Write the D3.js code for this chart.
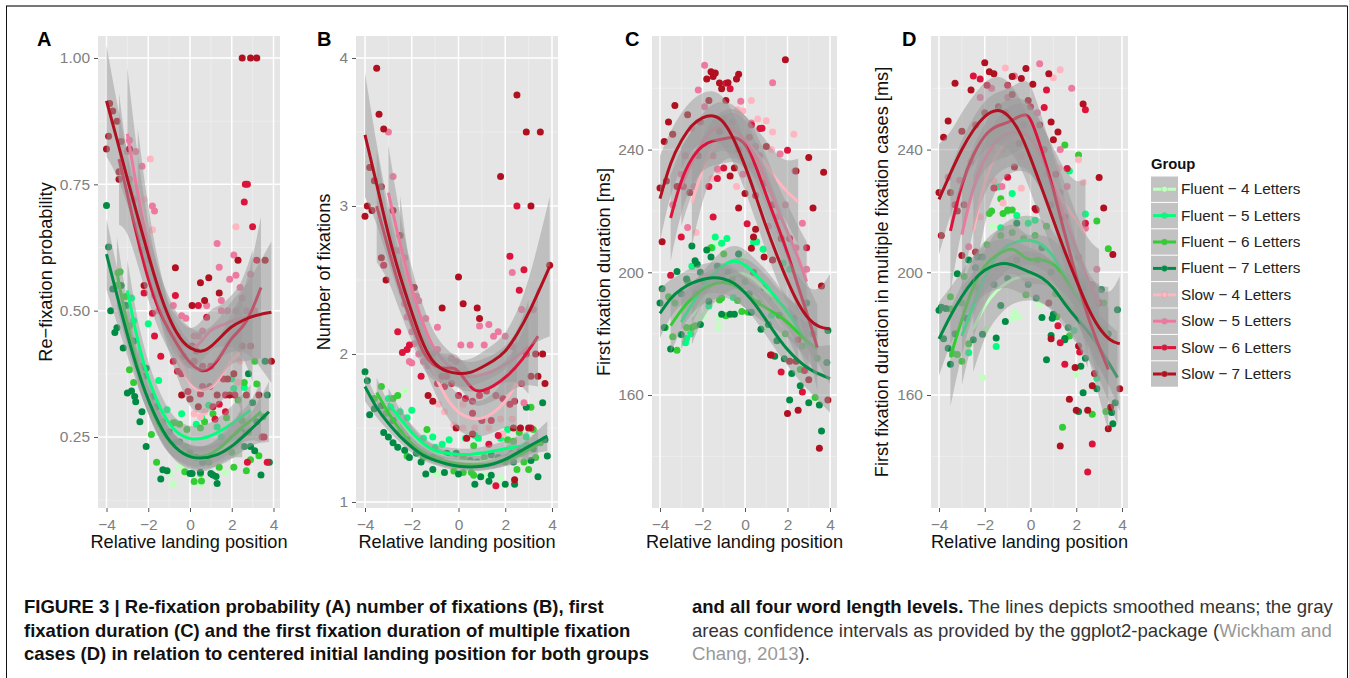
<!DOCTYPE html>
<html>
<head>
<meta charset="utf-8">
<script src="https://cdn.jsdelivr.net/npm/d3@7"></script>
<style>
    html, body { margin: 0; padding: 0; background: #fff; }
    svg { display: block; }
    text { font-family: "Liberation Sans", Arial, sans-serif; }
    .tick-lab text { fill: #7f7f7f; font-size: 15.5px; }
    .axis-title { fill: #111; font-size: 18.2px; }
    .letter { font-weight: bold; font-size: 20px; fill: #000; }
    .cap-b { font-family: "Liberation Sans Narrow", "Liberation Sans", sans-serif; font-weight: bold; font-size: 18.5px; fill: #111; }
    .cap { font-family: "Liberation Sans Narrow", "Liberation Sans", sans-serif; font-size: 18.6px; fill: #333; }
</style>
</head>
<body>
<svg id="fig" width="1349" height="678"></svg>
<script>
// ===================================================================
// DATA
// ===================================================================
const groups = ['Fluent − 4 Letters', 'Fluent − 5 Letters', 'Fluent − 6 Letters', 'Fluent − 7 Letters',
    'Slow − 4 Letters', 'Slow − 5 Letters', 'Slow − 6 Letters', 'Slow − 7 Letters'];
const groupColors = ['#c1ffc1', '#00ff7f', '#32cd32', '#008b45', '#ffb6c1', '#ee799f', '#dc143c', '#b0101f'];

const xTicks = [-4, -2, 0, 2, 4];
const xMinor = [-3, -1, 1, 3];
const yTicksA = [0.25, 0.5, 0.75, 1];
const yMinorA = [0.125, 0.375, 0.625, 0.875];
const yTicksB = [1, 2, 3, 4];
const yMinorB = [1.5, 2.5, 3.5];
const yTicksC = [160, 200, 240];
const yMinorC = [140, 180, 220, 260];

const yTitles = ['Re−fixation probability', 'Number of fixations', 'First fixation duration [ms]', 'First fixation duration in multiple fixation cases [ms]'];

// Points: one list per group, same order as `groups`
const pointsA = [
    [[-.8,.157],[.5,.157],[1.7,.18],[-.95,.177],[1.4,.192],[.3,.2],[-.5,.19],[-2.5,.4],[2.3,.22]],
    [[-2.8,.525],[-2.7,.48],[-2,.474],[-1.5,.362],[-1.1,.304],[-.4,.296],[-.7,.278],[.3,.275],[2,.365],[2.6,.348],[2.1,.346],[.9,.313],[.55,.289],[1.3,.27],[-3,.51],[1.5,.25]],
    [[-3.35,.577],[-3.45,.575],[-3.5,.55],[-3.1,.528],[-2.9,.383],[-2.7,.358],[-1.85,.255],[-1.6,.2],[-.25,.181],[.2,.162],[.55,.163],[.5,.178],[2.1,.19],[2.7,.183],[3.3,.213],[2.9,.205],[3.1,.4],[3.2,.355],[2.6,.358],[2.3,.323],[1.1,.296],[1.75,.288],[.7,.28],[.5,.268],[-.15,.265],[-.5,.275],[-.8,.278],[2.5,.282],[1.4,.19],[-2.9,.47],[-2.4,.39],[-1.3,.28],[-.2,.23],[.9,.2],[2,.22],[2.8,.26],[3.5,.29]],
    [[-4,.708],[-3.9,.626],[-3.8,.5],[-3.7,.543],[-3.6,.457],[-3.5,.466],[-3.2,.426],[-3,.337],[-2.8,.341],[-2.65,.33],[-2.6,.32],[-2.3,.3],[-2.4,.28],[-2.1,.231],[-2.1,.386],[-1.3,.185],[-1.1,.183],[-1.4,.167],[0,.178],[.1,.178],[.5,.18],[1,.178],[1.1,.175],[1.25,.172],[1.3,.158],[2.8,.375],[2.6,.231],[2.9,.231],[3.1,.223],[3.4,.175],[3.8,.2],[3,.318],[3.7,.333],[3.6,.4],[-3.3,.55],[-3.1,.51],[-2.7,.44],[-2.2,.37],[-1.8,.33],[-1.6,.31],[-1,.26],[-.7,.24],[-.5,.24],[0,.22],[.3,.21],[.6,.2],[1.3,.22],[1.6,.23],[2.3,.25],[2.5,.26],[3.2,.28]],
    [[-1.9,.8],[-1.8,.66],[2.2,.666],[2.4,.4],[.2,.296],[.5,.29],[.7,.3],[2.3,.358],[-2.2,.72]],
    [[1.3,.633],[2.1,.61],[2.2,.57],[1.9,.562],[1.4,.586],[2.9,.572],[2.4,.546],[1.5,.52],[.8,.51],[-1.8,.707],[-1.7,.697],[-2.3,.786],[-2.6,.815],[-2.9,.837],[-3,.815],[-2.9,.76],[-2.7,.72],[-2.5,.67],[-2.4,.645],[-2.2,.62],[-2,.6],[-1.7,.53],[-1.5,.5],[-1.2,.5],[-.8,.51],[-.4,.49],[-.2,.485],[.2,.45],[.4,.45],[.6,.46],[1.5,.5],[2.2,.5],[2.7,.5],[3.1,.5],[2.5,.525],[1.8,.5]],
    [[2.65,.75],[2.75,.75],[2.6,.715],[3,.666],[3.2,.6],[-.7,.53],[.4,.51],[.8,.487],[-2.2,.535],[-1.8,.495],[-1.7,.45],[-1.4,.41],[-.8,.4],[1.7,.333],[2.15,.333],[1.7,.3],[1.2,.285],[1.4,.315],[3.45,.25],[3.55,.25],[2.75,.2],[3.7,.2],[-.6,.45],[.1,.43],[.3,.42],[-.3,.41],[.2,.4],[.6,.39],[1,.39],[-.6,.38],[-.4,.375],[.6,.35],[.95,.35],[-.1,.34],[.5,.335],[1.1,.31],[1.6,.365],[2.5,.43],[2.9,.43]],
    [[-4,.82],[-3.9,.845],[-3.85,.91],[-3.7,.895],[-3.5,.875],[-3.3,.835],[-2.9,.82],[-3.4,.775],[-3.4,.76],[2.5,1],[2.9,1],[3.2,1],[3.6,.6],[2.3,.6],[-.7,.585],[.5,.555],[.9,.565],[1.4,.535],[.7,.52],[.1,.51],[-2.2,.55],[2.1,.375],[1.8,.365],[1.3,.333],[-.4,.333],[0,.325],[.4,.31],[3.9,.4],[1.9,.333],[2.7,.333],[3.3,.333]]
];
const pointsB = [
    [[-2.3,1.75],[-.9,1.19],[1.8,1.16],[.2,1.27],[1.1,1.18]],
    [[-2.5,1.61],[-2,1.62],[-2.2,1.57],[-3,1.7],[-2.9,1.64],[-1.5,1.43],[-1.1,1.44],[-1,1.37],[-.4,1.42],[-.7,1.39],[.3,1.43],[.85,1.43],[.7,1.45],[2.1,1.49],[2.9,1.44],[1.8,1.43]],
    [[-3.3,1.78],[-2.6,1.72],[-2.8,1.7],[-2.2,1.31],[-1.35,1.49],[3.1,1.64],[3.2,1.49],[2.6,1.47],[2.35,1.41],[2.1,1.42],[.65,1.18],[.55,1.2],[2.5,1.22],[3,1.22],[3.3,1.3],[2.8,1.27],[-.2,1.21],[.2,1.2],[.65,1.38],[-3.6,1.7],[-3.1,1.6],[-2.5,1.47],[-1.5,1.3],[-.8,1.3],[.2,1.3],[1.1,1.3],[2,1.27],[2.9,1.38],[3.5,1.4]],
    [[-4,1.88],[-3.9,1.82],[-3.8,1.59],[-3.6,1.63],[-3.2,1.47],[-3,1.44],[-2.8,1.4],[-2.6,1.37],[-2.3,1.35],[-2.1,1.3],[-1.6,1.27],[-1.4,1.19],[-1.1,1.22],[-.6,1.2],[0,1.19],[.7,1.12],[.95,1.17],[1.3,1.14],[1.4,1.18],[2,1.12],[2.4,1.12],[3.4,1.17],[3.8,1.31],[3.6,1.67],[2.9,1.64],[3.1,1.28],[2.35,1.27],[-3.3,1.65],[-2.8,1.55],[-2.2,1.42],[-1.8,1.33],[-1.1,1.3],[-.5,1.33],[-.1,1.33],[.5,1.28],[.8,1.27],[1.4,1.32],[1.7,1.3],[2.3,1.33],[2.6,1.34],[3.2,1.36],[3.7,1.42]],
    [[-.2,1.52],[.2,1.66],[-.85,1.66],[-.6,1.61],[1.3,1.5],[.2,1.5],[2.3,1.56],[1.8,1.56],[.7,1.5],[1.9,1.46]],
    [[-3,3.5],[-2.8,3.2],[-2.3,2.65],[-1.8,2.39],[-1.7,2.36],[-1.4,2.24],[-.9,2.18],[-2.1,1.95],[-2,1.94],[.9,2.19],[1.3,2.2],[2.3,2.55],[2.8,1.67],[-2.9,2.72],[-2.7,2.7],[-2.5,2.7],[-2.4,2.42],[-2.3,2.34],[-2.2,2.25],[-2,2.15],[-1.9,2.07],[-1.7,2],[-1.5,1.95],[-1.3,1.92],[-1.1,2],[-.9,2.03],[-.3,1.97],[-.1,1.95],[.1,2.06],[.5,2.06],[1.1,2.06],[1.5,2.12],[1.7,2.15],[2,2.12],[2.3,2.05],[2.7,2.3],[3.2,2.3]],
    [[2.5,3],[2.2,2.66],[2.8,2.57],[2.6,2.43],[-2.6,2.15],[-2.4,2.01],[-2.2,2.03],[-2.1,2.06],[-1.6,1.85],[1.3,1.39],[1.7,1.45],[1.6,1.11],[3.1,1.5],[-3.2,2.6],[-.7,1.85],[-.5,1.85],[-.9,1.8],[-.6,1.78],[-.3,1.8],[0,1.72],[.3,1.7],[.6,1.68],[.9,1.72],[1.2,1.75],[1.6,1.72],[1.9,1.7],[2.2,1.66],[2.4,1.68],[2.7,1.8],[.6,1.6],[1,1.55],[1.4,1.55]],
    [[-3.5,3.93],[-3.4,3.62],[-3.2,3.52],[-4,2.93],[-3.9,3],[-3.7,2.97],[-3.8,3.26],[-3.6,3.17],[-3.3,3.13],[-2.5,2.8],[-2.8,2.97],[-3.1,2.5],[-3.3,2.65],[-1.9,2.45],[-.7,2.31],[0,2.52],[.2,2.34],[.8,2.31],[.9,2.24],[1.8,3.2],[2.5,3.75],[2.9,3.5],[3.5,3.5],[3.1,3],[3.9,2.6],[3.6,2],[3.7,1.8],[-1.1,1.68],[-1.3,1.72],[-.1,1.5],[.6,1.46],[.35,1.43],[2.35,1.5],[2.65,1.5],[3,1.5],[2.4,1.15],[3.3,2],[3.4,1.85],[2.9,2],[3.1,1.85]]
];
const pointsC = [
    [[-1.25,185],[-1.25,182],[-1.9,186],[-2.1,185],[.95,182],[1.3,186],[-.1,205],[-1.4,209]],
    [[-1.4,211.5],[-1.1,209.5],[-.85,211],[-1.55,208],[-2.5,202],[-2.75,178.4],[-2.8,177],[-2.55,180],[-1.7,189],[-.55,191.8],[.55,210],[.4,209.8],[.85,207.5],[-.3,206],[1.8,203],[2.1,201],[1.25,186]],
    [[-2.5,182],[-2.75,182],[-2.35,182.6],[-3.2,174.6],[-3.4,179],[-3.75,182],[-1.2,191],[-1.1,191.6],[-.9,185.8],[-.15,187.2],[-.35,190.8],[.15,187],[2.6,168.3],[3.3,159.2],[-1.6,208],[-3.6,192],[-3.3,190],[-2.7,197],[-2.3,193],[-1.9,197],[-1,206],[-.6,198],[0,197],[.6,190],[1.3,192],[1.9,180],[2.7,176],[3.4,172]],
    [[-2.5,208.6],[-2.35,203.8],[-2.25,202.6],[-1.8,207.3],[-1.6,205],[-3.2,200.3],[-3.9,194.6],[-4,190],[-2.75,197.8],[-3.8,182],[-3.5,175],[-3,179.7],[-2.1,183],[-1.7,190.6],[-1.1,186.3],[-.7,186.3],[-.5,186.3],[.3,187],[.75,181.4],[1.5,177.7],[1.4,172.6],[1.85,171.8],[2.2,167],[2.6,163],[2.1,158.4],[3,157.5],[3.5,156.7],[3.6,148.3],[3.9,181],[3.85,170.6],[-3,193],[-2.1,200],[-1.3,202],[-.8,200],[-.3,206],[.2,193],[.4,200],[.9,195],[1.1,183],[1.6,186],[2.3,185],[2.9,190],[3.2,180]],
    [[.3,256],[2.3,245],[1.3,245.7],[.6,250],[1,249.4],[-2.3,213],[-.4,228],[-1.55,230.6],[1.25,240],[-.35,253],[-.1,252.6],[-1.25,233]],
    [[-1.9,267.5],[-2.2,259.4],[1.3,261.8],[-.2,255.8],[-2.7,214.6],[-1.3,233.7],[1.65,238.6],[2.35,233],[2.7,216],[2.9,201],[.5,241],[.3,248.7],[-3.4,222],[-3,232],[-2.8,238],[-2.4,228],[-2.5,247],[-1.9,254],[-1.5,238],[-1,250],[-.6,249],[-.1,232],[.3,235],[.7,238],[1.1,215],[1.5,218],[1.9,222],[2.4,208]],
    [[-1.5,218],[-1.3,230.6],[-1,234],[-1.7,228],[-3.5,199],[-3,211.5],[-.9,261.6],[-.7,259.8],[.7,246.9],[.8,247],[.3,248],[2,239.8],[.1,215.8],[1.7,167.5],[1.25,173],[2.8,168],[2.7,161],[2.5,178],[-2.9,228],[-2.1,249],[-1.2,246],[.2,244],[.5,225],[1.3,222],[2.1,211],[2.9,208]],
    [[1.9,269.3],[-1.8,263],[-1.6,265.4],[-1.5,263.8],[-1.4,265],[-.3,264.6],[-.4,263],[-1.2,261.7],[-.8,261.8],[-1.1,259.8],[-3.3,254.4],[-3.6,249],[-3.8,242.6],[-3.4,245],[-2.7,251.4],[-4,227.5],[-3.7,229.8],[-3.9,210],[1,241],[3,237.4],[3.7,232.6],[2.4,233],[3.2,221],[-.3,221],[0,225.7],[.4,211.5],[.5,214],[.3,207.8],[-.5,234],[-.7,231.4],[3.6,195.5],[2,154],[2.5,155],[3,165],[3.5,142.6],[3.9,158.4],[2.1,171],[2.4,171],[1.2,173],[-3.2,228],[-2.6,226],[-2.2,238],[-1.7,256],[-.9,256],[-.3,240],[.9,229],[1.7,211],[.9,205],[1.3,204]]
];
const pointsD = [
    [[-2.1,165.7],[2,166.6],[-.7,187],[-.5,185.5],[-.75,185],[-1.9,181.5],[-1.65,215],[.4,189.3],[-.2,217]],
    [[-.8,225.7],[-1,220],[-1.4,227.8],[.2,217],[2.4,219],[1.7,233],[-2.7,173.8],[-1.5,175.8],[1.9,181],[2.9,165.5],[-.1,216],[-1.3,214.5],[-.6,218.5]],
    [[1.5,241.5],[2.1,238.2],[-1.3,224],[-1.7,220],[-1.8,219.2],[-1.2,219.2],[-.8,220.3],[-1,220.3],[3.4,207.7],[2.9,216.7],[-2.9,198.6],[-3.5,192],[-3.4,173.5],[-3.2,173.2],[-3,171],[-2.7,176.7],[-.2,192.7],[2.7,153.7],[1.4,149.5],[3.3,154.6],[1.7,179.2],[1.15,185.5],[-3.5,188],[-3,190],[-2.3,195],[-1.9,209],[-1.3,212],[-.8,213],[-.3,211],[.2,212],[.7,215],[1.1,193],[2.1,205],[2.7,182],[3.2,190]],
    [[-.6,216],[-4,187.6],[-3.9,188.6],[-3.7,188.2],[-3.8,178.3],[-3.6,175.2],[-3.5,170],[-3.2,199.5],[-2.7,204],[-2.4,201.5],[-2.3,205],[-2.1,179.8],[-1.1,184],[-1.3,189.2],[-1.5,178.6],[.25,191.6],[.5,185.3],[1,186.3],[.95,185],[.9,179.4],[.7,171.5],[1.65,182],[1.5,178.4],[2.2,169.4],[2.3,160.7],[2.1,154.6],[2.4,172],[2.9,162],[3.1,194.4],[3.8,187.8],[3.55,154.3],[3.6,150.6],[3.7,157.5],[-3.3,180],[-2.8,185],[-2.5,178],[-2.1,205],[-1.6,196],[-1,198],[-.6,204],[-.1,196],[.3,204],[.5,208],[.9,200],[1.5,178],[2.3,195],[3,190],[3.4,180]],
    [[-1.1,266.6],[1.3,266],[1,263.4],[2.1,236.7],[1.25,234],[-.4,227.4],[-1.2,222.6],[-1.6,229.8],[2.3,229.3],[-2.2,218],[-1.7,240],[-1.2,240],[-.4,238]],
    [[.4,268],[-.7,264],[1.8,260],[1.3,240],[-1.25,228],[-2.7,208.3],[2.9,201],[2.4,214.4],[1.6,228],[-3.6,231],[-3.1,230],[-2.6,236],[-2.2,257],[-1.7,260],[-1,257],[-.3,248],[.3,252],[.7,232],[1.3,226],[1.7,205],[2.7,196]],
    [[-2.5,264],[-2.2,263],[-1,261],[.7,259.4],[.6,253.7],[2.4,253],[1.6,233.8],[-1.6,227.5],[-1,231],[.25,220.3],[2.7,144],[2.5,134.9],[1.5,170],[1.3,177],[1.2,182.6],[2.15,174],[-3.3,222],[-2.9,222],[-2.4,248],[-1.9,261],[-1.1,252],[-.5,242],[0,254],[.6,240],[1.1,232],[1.5,218],[2.4,216],[3,190]],
    [[-2,268.3],[-1.8,265.4],[-1.6,264.7],[-.2,266.4],[-3.3,261.6],[-2.6,259.4],[-3.6,249.3],[-3.8,244],[-4,226],[-3.9,212],[-.8,263.8],[-.4,263.2],[.1,261.3],[.8,264.7],[1.2,245.7],[1,243.2],[.9,249],[-.7,234.3],[3,230.9],[3.2,221],[3.6,205.8],[2.3,254.9],[-3,205.5],[-2.4,206.6],[.2,220.8],[1.3,143.4],[1.7,158.6],[2,155],[2.5,155],[1.95,169],[3.9,162],[3.5,156],[2.7,163],[2.8,167],[3.4,149],[.9,178.3],[.8,190],[2.1,176],[-3.5,226],[-3.2,220],[-3,246],[-2,252],[-1.4,254],[-.8,258],[-.1,256],[.4,248],[.9,222]]
];

// Smoothed means: one list per group, each knot is [x, mean, half width of the band]
const smoothA = [
    [[-2.5,.4,.05],[-2,.33,.035],[-1.5,.28,.03],[-1,.24,.025],[-.5,.22,.025],[0,.21,.025],[.5,.205,.025],[1,.21,.025],[1.5,.225,.025],[2,.24,.03],[2.5,.26,.05]],
    [[-3,.54,.06],[-2.4,.414,.035],[-1.6,.317,.03],[-.8,.26,.025],[0,.244,.025],[.8,.247,.025],[1.76,.268,.03],[2.9,.303,.05]],
    [[-3.5,.575,.07],[-3,.47,.04],[-2.5,.385,.03],[-2,.32,.025],[-1.5,.27,.025],[-1,.24,.025],[-.5,.222,.02],[0,.212,.02],[.5,.21,.02],[1,.215,.02],[1.5,.23,.025],[2,.25,.03],[2.5,.27,.03],[3,.285,.04],[3.4,.3,.06]],
    [[-4,.612,.07],[-2.7,.4,.03],[-1.9,.31,.025],[-1.1,.244,.025],[-.3,.213,.022],[.48,.206,.022],[1.3,.213,.022],[2.1,.233,.025],[3,.268,.03],[3.78,.3,.06]],
    [[-2.5,.74,.12],[-2,.64,.06],[-1.5,.54,.05],[-1,.46,.045],[-.5,.4,.045],[0,.35,.045],[.5,.34,.045],[1,.345,.045],[1.5,.37,.05],[2,.405,.06],[2.5,.42,.12]],
    [[-3,.85,.13],[-2.5,.73,.07],[-2,.62,.05],[-1.5,.53,.04],[-1,.47,.04],[-.5,.44,.04],[0,.42,.04],[.5,.435,.04],[1,.465,.04],[1.5,.47,.04],[2,.48,.05],[2.5,.485,.07],[3,.49,.13]],
    [[-3.4,.8,.13],[-3,.73,.07],[-2.5,.64,.05],[-2,.56,.04],[-1.5,.5,.04],[-1,.46,.04],[-.5,.425,.04],[0,.395,.04],[.5,.38,.04],[.9,.38,.04],[1.5,.41,.04],[2,.45,.05],[2.7,.47,.07],[3.4,.546,.14]],
    [[-4,.915,.11],[-3.5,.84,.07],[-3,.76,.05],[-2.5,.685,.04],[-2,.61,.04],[-1.5,.54,.04],[-1,.483,.04],[-.5,.445,.04],[0,.424,.04],[.6,.417,.04],[1,.428,.04],[1.5,.449,.04],[2,.47,.05],[2.5,.48,.06],[3,.49,.08],[3.9,.497,.14]]
];
const smoothB = [
    [[-2.5,1.55,.1],[-2,1.44,.06],[-1.5,1.37,.05],[-1,1.33,.045],[-.5,1.3,.04],[0,1.28,.04],[.5,1.27,.04],[1,1.27,.04],[1.5,1.28,.045],[2,1.31,.05],[2.5,1.35,.1]],
    [[-3,1.67,.1],[-2.5,1.56,.06],[-2,1.47,.05],[-1.5,1.39,.045],[-1,1.34,.04],[-.5,1.33,.04],[0,1.32,.04],[.5,1.32,.04],[1,1.33,.04],[1.5,1.345,.045],[2,1.36,.05],[2.5,1.375,.06],[3,1.385,.1]],
    [[-3.5,1.74,.1],[-3,1.6,.06],[-2.5,1.48,.05],[-2,1.39,.04],[-1.5,1.33,.04],[-1,1.29,.035],[-.5,1.27,.035],[0,1.255,.035],[.5,1.25,.035],[1,1.25,.035],[1.5,1.26,.035],[2,1.28,.04],[2.5,1.31,.05],[3,1.35,.06],[3.4,1.39,.1]],
    [[-4,1.78,.1],[-3.5,1.63,.06],[-3,1.53,.05],[-2.5,1.44,.04],[-2,1.37,.04],[-1.5,1.31,.035],[-1,1.28,.03],[-.5,1.255,.03],[0,1.24,.03],[.5,1.235,.03],[1,1.24,.03],[1.5,1.255,.035],[2,1.285,.04],[2.5,1.33,.04],[3,1.375,.05],[3.8,1.445,.1]],
    [[-2.5,2.75,.32],[-2,2.3,.17],[-1.5,2.05,.13],[-1,1.85,.12],[-.5,1.69,.12],[0,1.6,.12],[.5,1.56,.12],[1,1.56,.12],[1.5,1.6,.13],[2,1.67,.16],[2.5,1.81,.32]],
    [[-3,3.09,.32],[-2.5,2.74,.18],[-2,2.43,.14],[-1.5,2.19,.12],[-1,2.01,.11],[-.5,1.93,.1],[0,1.86,.1],[.5,1.84,.1],[1,1.86,.1],[1.5,1.885,.11],[2,1.93,.12],[2.5,1.98,.16],[3,2.05,.32]],
    [[-3.5,3,.38],[-3,2.71,.2],[-2.5,2.43,.15],[-2,2.21,.12],[-1.5,1.99,.11],[-1,1.91,.1],[-.5,1.9,.1],[-.3,1.91,.1],[0,1.89,.1],[.2,1.84,.1],[.6,1.76,.1],[.85,1.74,.1],[1.5,1.78,.1],[2.1,1.85,.12],[2.7,1.95,.15],[3.4,2.12,.34]],
    [[-4,3.48,.42],[-3.5,3.15,.26],[-3,2.8,.18],[-2.5,2.52,.14],[-2,2.28,.12],[-1.5,2.05,.1],[-1,1.92,.1],[-.5,1.88,.09],[0,1.865,.09],[.5,1.87,.09],[1,1.91,.1],[1.5,1.955,.11],[2,2.01,.12],[2.5,2.13,.15],[3,2.27,.21],[3.9,2.59,.47]]
];
const smoothC = [
    [[-2.5,185.5,9],[-2,191,6],[-1.5,195,5],[-1,198,5],[-.5,199.8,5],[0,199.8,5],[.5,197.5,5],[1,194,5],[1.5,190,5],[2,185.5,6],[2.5,180.3,9]],
    [[-3,183.8,9],[-2.5,189.5,6],[-2,195.2,5],[-1.5,199.2,5],[-1,202.6,5],[-.5,204.1,5],[0,202.6,5],[.5,199.2,5],[1,195.8,5],[1.5,191.2,5],[2,187.2,5],[2.5,182,6],[3,175.8,9]],
    [[-3.5,182.6,9],[-3,187.8,6],[-2.5,191.8,5],[-2,194.6,5],[-1.5,196.3,5],[-1,197,5],[-.5,195.8,5],[0,193.5,5],[.5,190.6,5],[1,188.3,5],[1.5,186.3,5],[2,183.8,5],[2.5,180.3,5],[3,177,6],[3.4,175,9]],
    [[-4,186.6,8],[-3.5,191.8,6],[-3,194.6,5],[-2.5,196.6,5],[-2,197.7,5],[-1.5,198.4,5],[-1,198,5],[-.5,196.6,5],[0,193.5,5],[.5,189.5,5],[1,184.3,5],[1.5,179.2,5],[2,174.6,5],[2.5,171.2,6],[3,168.3,7],[4,165.3,11]],
    [[-2.5,222.6,14],[-2,234,10],[-1.5,241.5,9],[-1,245,8],[-.5,245.5,8],[0,243.5,8],[.5,239,8],[1,235,8],[1.5,230,8],[2,226,10],[2.5,223,14]],
    [[-3,228,13],[-2.5,236,10],[-2,243,9],[-1.5,247,8],[-1,248,8],[-.5,246.5,8],[0,243.5,8],[.5,238,8],[1,230,8],[1.5,221,8],[2,213,9],[2.5,205,10],[2.9,197,13]],
    [[-3.5,217.7,14],[-3,230.6,10],[-2.5,237.5,9],[-2,241.5,8],[-1.5,243,8],[-1,243.5,8],[-.5,244.3,8],[0,242.6,8],[.5,235,8],[1,225,8],[1.5,215.8,8],[2,206.6,8],[2.5,195.2,9],[3,185,10],[3.4,175.5,14]],
    [[-4,224,14],[-3.5,236.3,10],[-3,243,9],[-2.5,248.3,8],[-2,250.6,8],[-1.5,251.4,8],[-1,249.5,8],[-.5,243.2,8],[0,235,8],[.5,225,8],[1,214.6,8],[1.5,205.5,8],[2,197,8],[2.5,189.6,9],[3,184.4,10],[3.5,182,12],[4,181.5,18]]
];
const smoothD = [
    [[-2.5,181.5,14],[-2,189.5,10],[-1.5,194,9],[-1,197,8],[-.5,198.6,8],[0,199,8],[.5,198,8],[1,196,8],[1.5,192,8],[2,188,10],[2.5,183,14]],
    [[-3,179.2,16],[-2.5,189.5,10],[-2,198.6,9],[-1.5,205.5,8],[-1,209,8],[-.5,210.3,8],[0,210.6,8],[.5,209.5,8],[1,205.5,8],[1.5,198.6,8],[2,193,9],[2.5,187.2,10],[3,180.3,16]],
    [[-3.5,172.3,16],[-3,185,11],[-2.5,195.8,9],[-2,202.6,8],[-1.5,205.7,8],[-1,207.5,8],[-.7,207.8,8],[-.2,204.3,8],[0,204,8],[.5,204.3,8],[1,203,8],[1.5,198.6,8],[2,191.8,8],[2.5,187.2,9],[3.4,179.2,16]],
    [[-4,178.3,12],[-3.5,186,9],[-3,192.3,8],[-2.5,197.5,8],[-2,201,8],[-1.5,202.6,8],[-1,203.2,8],[-.5,201.5,8],[0,200,8],[.5,198.4,8],[1,195.2,8],[1.5,189.5,8],[2,185,8],[2.5,181,9],[3,175.8,10],[3.8,165.7,15]],
    [[-2.5,213.5,18],[-2,230.6,13],[-1.5,238.6,11],[-1,243.2,11],[-.5,244.3,11],[0,243.8,11],[.5,237.5,11],[1,229.5,11],[1.5,222,11],[2,217,12],[2.4,212.3,18]],
    [[-3,212.3,18],[-2.5,228.4,13],[-2,237.5,11],[-1.5,243.2,11],[-1,245.5,11],[-.5,246,11],[0,244.3,11],[.5,237.5,11],[1,228.4,11],[1.5,218,11],[2,207.8,11],[2.5,197.5,13],[3,189.5,18]],
    [[-3.5,213.5,20],[-3,229.5,14],[-2.5,238.6,12],[-2,245,11],[-1.5,247.8,11],[-1,248.6,11],[-.5,251,11],[-.2,251.5,11],[0,250.6,11],[.5,239.8,11],[1,227.2,11],[1.5,212.3,11],[2,198.6,11],[2.5,185,12],[3.4,168.3,20]],
    [[-4,223.8,18],[-3.5,232.3,13],[-3,240.3,12],[-2.5,246.6,11],[-2,251.2,11],[-1.5,253.3,11],[-1,251.8,11],[-.5,246.6,11],[0,237.5,11],[.5,227.2,11],[1,217,11],[1.5,206.6,11],[2,197.5,11],[2.5,188.3,12],[3,181.5,13],[3.5,177.5,15],[3.9,176.7,22]]
];

const captionLeft = [
    'FIGURE 3 | Re-fixation probability (A) number of fixations (B), first',
    'fixation duration (C) and the first fixation duration of multiple fixation',
    'cases (D) in relation to centered initial landing position for both groups'
];

// ===================================================================
// LAYOUT
// ===================================================================
const svg = d3.select('#fig');
const panelTop = 36, panelBottom = 508;

const panels = [
    { letter: 'A', title: yTitles[0], pts: pointsA, fit: smoothA, ticks: yTicksA, minor: yMinorA, fmt: d3.format('.2f'),
      left: 98, right: 280, x0: 106.5, x1: 273.5, yDom: [1, .25], yRange: [58, 437], titleX: 52, letterX: 37 },
    { letter: 'B', title: yTitles[1], pts: pointsB, fit: smoothB, ticks: yTicksB, minor: yMinorB, fmt: d3.format('d'),
      left: 356, right: 558, x0: 365, x1: 552, yDom: [4, 1], yRange: [58, 502], titleX: 330, letterX: 317 },
    { letter: 'C', title: yTitles[2], pts: pointsC, fit: smoothC, ticks: yTicksC, minor: yMinorC, fmt: d3.format('d'),
      left: 652, right: 837, x0: 660, x1: 830, yDom: [240, 160], yRange: [149.6, 395], titleX: 610, letterX: 625 },
    { letter: 'D', title: yTitles[3], pts: pointsD, fit: smoothD, ticks: yTicksC, minor: yMinorC, fmt: d3.format('d'),
      left: 931, right: 1128, x0: 939, x1: 1122, yDom: [240, 160], yRange: [149.6, 395], titleX: 888, letterX: 902 }
];

// Page frame: heavier grey rule on top, thin black sides
svg.append('path').attr('d', 'M6,6H1347.5').attr('stroke', '#777').attr('stroke-width', 2).attr('fill', 'none');
svg.append('path').attr('d', 'M6.5,6V678M1347.5,6V678').attr('stroke', '#111').attr('stroke-width', 1).attr('fill', 'none');

panels.forEach(drawPanel);
drawLegend();
drawCaption();

function drawPanel(p) {
    const x = d3.scaleLinear().domain([-4, 4]).range([p.x0, p.x1]);
    const y = d3.scaleLinear().domain(p.yDom).range(p.yRange);
    const g = svg.append('g');
    const midX = (p.left + p.right) / 2;

    // Background and grid
    g.append('rect')
        .attr('x', p.left).attr('y', panelTop)
        .attr('width', p.right - p.left).attr('height', panelBottom - panelTop)
        .attr('fill', '#e5e5e5');

    const addGrid = (vals, axis, width, color) => {
        g.selectAll(null).data(vals).join('line')
            .attr('x1', d => axis === 'x' ? x(d) : p.left)
            .attr('x2', d => axis === 'x' ? x(d) : p.right)
            .attr('y1', d => axis === 'x' ? panelTop : y(d))
            .attr('y2', d => axis === 'x' ? panelBottom : y(d))
            .attr('stroke', color)
            .attr('stroke-width', width);
    };
    addGrid(xMinor, 'x', 0.6, '#f2f2f2');
    addGrid(p.minor, 'y', 0.6, '#f2f2f2');
    addGrid(xTicks, 'x', 1.5, '#fff');
    addGrid(p.ticks, 'y', 1.5, '#fff');

    // Points sit under every band
    p.pts.forEach((list, i) => {
        g.append('g').selectAll('circle').data(list).join('circle')
            .attr('cx', d => x(d[0]))
            .attr('cy', d => y(d[1]))
            .attr('r', 3.5)
            .attr('fill', groupColors[i]);
    });

    // Band then line, group by group, so later bands veil earlier lines
    const band = d3.area().x(d => x(d[0])).y0(d => y(d[1] - d[2])).y1(d => y(d[1] + d[2])).curve(d3.curveBasis);
    const line = d3.line().x(d => x(d[0])).y(d => y(d[1])).curve(d3.curveBasis);
    p.fit.forEach((knots, i) => {
        g.append('path').attr('d', band(knots)).attr('fill', '#999').attr('fill-opacity', 0.5);
        g.append('path').attr('d', line(knots)).attr('fill', 'none')
            .attr('stroke', groupColors[i]).attr('stroke-width', 3);
    });

    // Axes
    const xAxis = d3.axisBottom(x).tickValues(xTicks).tickSize(4).tickPadding(7)
        .tickFormat(d => (d < 0 ? '−' + Math.abs(d) : d));
    const yAxis = d3.axisLeft(y).tickValues(p.ticks).tickSize(4).tickPadding(4).tickFormat(p.fmt);
    const axX = g.append('g').attr('class', 'tick-lab').attr('transform', `translate(0,${panelBottom})`).call(xAxis);
    const axY = g.append('g').attr('class', 'tick-lab').attr('transform', `translate(${p.left},0)`).call(yAxis);
    [axX, axY].forEach(a => {
        a.select('.domain').remove();
        a.selectAll('line').attr('stroke', '#555');
    });

    g.append('text').attr('class', 'axis-title')
        .attr('x', midX).attr('y', 548).attr('text-anchor', 'middle')
        .text('Relative landing position');
    g.append('text').attr('class', 'axis-title')
        .attr('transform', `translate(${p.titleX},272) rotate(-90)`).attr('text-anchor', 'middle')
        .text(p.title);
    g.append('text').attr('class', 'letter')
        .attr('x', p.letterX).attr('y', 46)
        .text(p.letter);
}

function drawLegend() {
    const g = svg.append('g');
    const top = 176, step = 26.4, keyX = 1151, keyW = 27;
    g.append('text').attr('x', 1151).attr('y', 169)
        .attr('font-weight', 'bold').attr('font-size', 14.8).attr('fill', '#111')
        .text('Group');
    groups.forEach((name, i) => {
        const yMid = top + step * i + step / 2;
        g.append('rect').attr('x', keyX).attr('y', top + step * i + 0.5)
            .attr('width', keyW).attr('height', step - 1).attr('fill', '#c2c2c2');
        g.append('line').attr('x1', keyX + 2).attr('x2', keyX + keyW - 2)
            .attr('y1', yMid).attr('y2', yMid)
            .attr('stroke', groupColors[i]).attr('stroke-width', 3);
        g.append('circle').attr('cx', keyX + keyW / 2).attr('cy', yMid).attr('r', 3)
            .attr('fill', groupColors[i]).attr('stroke', '#999').attr('stroke-opacity', 0.3);
        g.append('text').attr('x', 1181).attr('y', yMid + 5)
            .attr('font-size', 15.3).attr('fill', '#222')
            .text(name);
    });
}

function drawCaption() {
    const lineY = [613, 637, 660];
    captionLeft.forEach((t, i) => {
        svg.append('text').attr('class', 'cap-b').attr('x', 24).attr('y', lineY[i]).text(t);
    });
    svg.append('text').attr('class', 'cap-b').attr('x', 692).attr('y', lineY[0]).text('and all four word length levels.');
    svg.append('text').attr('class', 'cap').attr('x', 968).attr('y', lineY[0]).text('The lines depicts smoothed means; the gray');
    const l2 = svg.append('text').attr('class', 'cap').attr('x', 692).attr('y', lineY[1]);
    l2.append('tspan').text('areas confidence intervals as provided by the ggplot2-package (');
    l2.append('tspan').attr('fill', '#999').text('Wickham and');
    const l3 = svg.append('text').attr('class', 'cap').attr('x', 692).attr('y', lineY[2]);
    l3.append('tspan').attr('fill', '#999').text('Chang, 2013');
    l3.append('tspan').text(').');
}
</script>
</body>
</html>
